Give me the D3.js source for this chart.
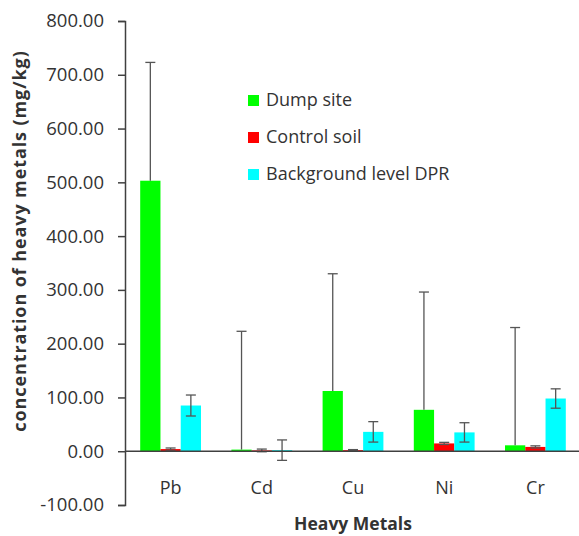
<!DOCTYPE html>
<html>
<head>
<meta charset="utf-8">
<script src="https://cdn.jsdelivr.net/npm/d3@7"></script>
<style>
  body { margin: 0; background: #fff; }
  text { font-family: "Open Sans", sans-serif; fill: #333; }
</style>
</head>
<body>
<script>
// données
const metaux = ["Pb", "Cd", "Cu", "Ni", "Cr"]
const series = ["Dump site", "Control soil", "Background level DPR"]
const dumpSite = [503, 3, 112, 77, 11]
const dumpSiteErr = [220, 220, 218, 219, 219]
const controlSoil = [4, 1.5, 2, 14.5, 8]
const controlSoilErr = [2, 2.5, 1, 2, 2]
const background = [85, 2, 36, 35, 98]
const backgroundErr = [19.5, 19, 19, 18, 18]
const yTicks = [-100, 0, 100, 200, 300, 400, 500, 600, 700, 800]

const colors = ["#00ff00", "#ff0000", "#00ffff"]

const valeurs = [dumpSite, controlSoil, background]
const erreurs = [dumpSiteErr, controlSoilErr, backgroundErr]

const data = metaux.map((m, i) => ({
    metal: m,
    bars: series.map((s, j) => ({ serie: s, value: valeurs[j][i], err: erreurs[j][i] }))
}))

// marges
let margin = { top: 21, right: 0, bottom: 31, left: 125 };
let width = 579, height = 536;

let svg = d3.select("body")
    .append("svg")
    .attr("width", width)
    .attr("height", height)

let y = d3.scaleLinear()
    .domain([-100, 800])
    .range([height - margin.bottom, margin.top])

let x0 = d3.scaleBand()
    .domain(metaux)
    .range([margin.left, 581])
    .padding(0)

let x1 = d3.scaleBand()
    .domain(series)
    .range([0, x0.bandwidth()])
    .paddingInner(0)
    .paddingOuter(0.75)

let color = d3.scaleOrdinal().domain(series).range(colors)

// barres
let groupes = svg.selectAll(".groupe")
    .data(data)
    .enter().append("g")
    .attr("class", "groupe")
    .attr("transform", d => "translate(" + x0(d.metal) + ",0)")

groupes.selectAll("rect")
    .data(d => d.bars)
    .enter().append("rect")
    .attr("x", d => x1(d.serie))
    .attr("width", x1.bandwidth())
    .attr("y", d => y(Math.max(0, d.value)))
    .attr("height", d => Math.abs(y(d.value) - y(0)))
    .attr("fill", d => color(d.serie))

// barres d'erreur
let err = groupes.selectAll(".err")
    .data(d => d.bars)
    .enter().append("g")
    .attr("class", "err")
    .attr("stroke", "#555")
    .attr("stroke-width", 1.3)

err.append("line")
    .attr("x1", d => x1(d.serie) + x1.bandwidth() / 2)
    .attr("x2", d => x1(d.serie) + x1.bandwidth() / 2)
    .attr("y1", d => y(d.value - (d.serie === "Dump site" ? 0 : d.err)))
    .attr("y2", d => y(d.value + d.err))

err.append("line")
    .attr("x1", d => x1(d.serie) + x1.bandwidth() / 2 - 5)
    .attr("x2", d => x1(d.serie) + x1.bandwidth() / 2 + 5)
    .attr("y1", d => y(d.value + d.err))
    .attr("y2", d => y(d.value + d.err))

err.filter(d => d.serie !== "Dump site").append("line")
    .attr("x1", d => x1(d.serie) + x1.bandwidth() / 2 - 5)
    .attr("x2", d => x1(d.serie) + x1.bandwidth() / 2 + 5)
    .attr("y1", d => y(d.value - d.err))
    .attr("y2", d => y(d.value - d.err))

// axe Y
let fmt = d3.format(".2f")
let yAxis = svg.append("g")
    .attr("transform", "translate(" + margin.left + ",0)")
    .call(d3.axisLeft(y).tickValues(yTicks).tickFormat(d => fmt(d).replace("−", "-")).tickSizeOuter(0).tickSize(7).tickPadding(14))

yAxis.select(".domain").attr("stroke", "#404040").attr("stroke-width", 1.5)
yAxis.selectAll(".tick line").attr("stroke", "#404040").attr("stroke-width", 1.5)
yAxis.selectAll(".tick text")
    .style("font-size", "18.5px")
    .style("font-family", "Open Sans")
    .attr("fill", "#333")

// ligne du zéro
svg.append("line")
    .attr("x1", margin.left)
    .attr("x2", width)
    .attr("y1", y(0))
    .attr("y2", y(0))
    .attr("stroke", "#404040")
    .attr("stroke-width", 1.5)

// étiquettes des métaux
svg.selectAll(".cat")
    .data(metaux)
    .enter().append("text")
    .attr("class", "cat")
    .attr("x", d => x0(d) + x0.bandwidth() / 2)
    .attr("y", 494)
    .attr("text-anchor", "middle")
    .style("font-size", "18px")
    .text(d => d)

// titres des axes
svg.append("text")
    .attr("transform", "translate(26," + 241 + ") rotate(-90)")
    .attr("text-anchor", "middle")
    .style("font-size", "18px")
    .style("font-weight", "bold")
    .style("letter-spacing", "0.9px")
    .text("concentration of heavy metals (mg/kg)")

svg.append("text")
    .attr("x", 353)
    .attr("y", 530)
    .attr("text-anchor", "middle")
    .style("font-size", "17.5px")
    .style("font-weight", "bold")
    .text("Heavy Metals")

// légende
let legend = svg.selectAll(".legend")
    .data(series)
    .enter().append("g")
    .attr("class", "legend")
    .attr("transform", (d, i) => "translate(248," + (95 + i * 37) + ")")

legend.append("rect")
    .attr("width", 11)
    .attr("height", 11)
    .attr("fill", d => color(d))

legend.append("text")
    .attr("x", 18)
    .attr("y", 11)
    .style("font-size", "18px")
    .text(d => d)
</script>
</body>
</html>
